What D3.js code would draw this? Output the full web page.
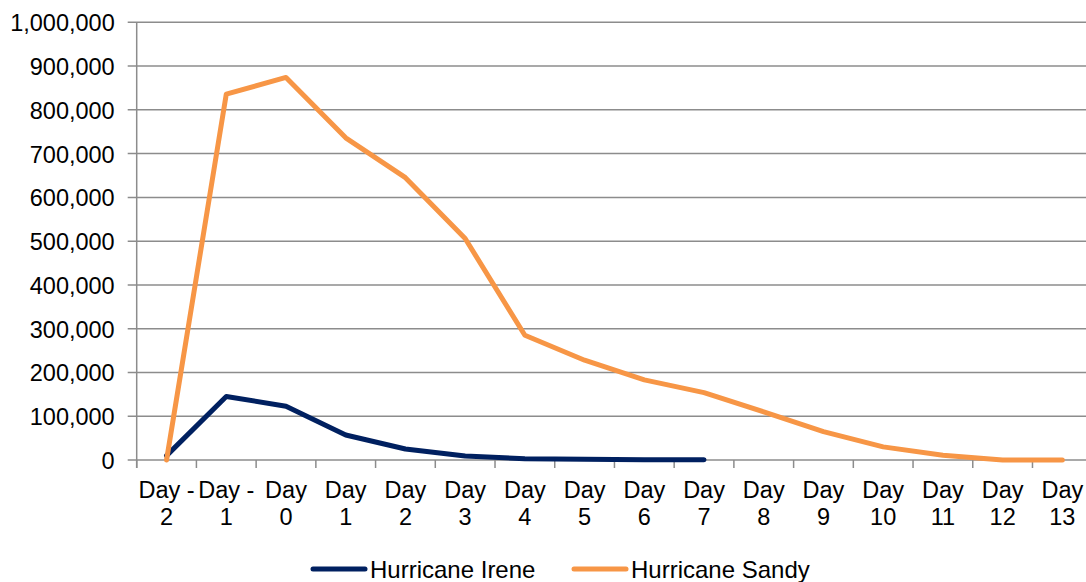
<!DOCTYPE html>
<html>
<head>
<meta charset="utf-8">
<script src="https://cdn.jsdelivr.net/npm/d3@7"></script>
<style>
  html, body { margin: 0; padding: 0; background: #fff; }
  svg { display: block; }
  text { font-family: "Liberation Sans", Arial, sans-serif; fill: #000; }
</style>
</head>
<body>
<svg id="chart" width="1086" height="582"></svg>
<script>
// Customers without power, by day relative to landfall
const categories = ["Day -2", "Day -1", "Day 0", "Day 1", "Day 2", "Day 3", "Day 4", "Day 5",
                    "Day 6", "Day 7", "Day 8", "Day 9", "Day 10", "Day 11", "Day 12", "Day 13"];
const ireneValues = [10000, 145000, 123000, 57000, 25000, 9000, 3000, 1500, 800, 400];
const sandyValues = [0, 836000, 874000, 736000, 645000, 506000, 285000, 228000,
                     183000, 154000, 110000, 65000, 30000, 11000, 0, 0];
const yTicks = [0, 100000, 200000, 300000, 400000, 500000, 600000, 700000, 800000, 900000, 1000000];
const seriesNames = ["Hurricane Irene", "Hurricane Sandy"];
const seriesColors = ["#002060", "#F79646"];

const svg = d3.select("#chart");
const plotLeft = 136.7, plotRight = 1092.2, plotTop = 22.3, plotBottom = 460;

const x = d3.scaleBand().domain(categories).range([plotLeft, plotRight]).paddingInner(0).paddingOuter(0);
const y = d3.scaleLinear().domain([0, 1000000]).range([plotBottom, plotTop]);
const cx = d => x(d) + x.bandwidth() / 2;

const gridColor = "#8c8c8c";

// horizontal gridlines with short ticks to the left of the axis
svg.append("g").selectAll("line").data(yTicks).join("line")
  .attr("x1", plotLeft - 9).attr("x2", 1086)
  .attr("y1", d => y(d)).attr("y2", d => y(d))
  .attr("stroke", gridColor).attr("stroke-width", 1.5);

// vertical axis line
svg.append("line")
  .attr("x1", plotLeft).attr("x2", plotLeft).attr("y1", plotTop).attr("y2", plotBottom + 8)
  .attr("stroke", gridColor).attr("stroke-width", 1.5);

// category boundary ticks under the x axis
const boundaries = categories.map(c => x(c)).concat([plotRight]);
svg.append("g").selectAll("line").data(boundaries).join("line")
  .attr("x1", d => d).attr("x2", d => d).attr("y1", plotBottom).attr("y2", plotBottom + 8)
  .attr("stroke", gridColor).attr("stroke-width", 1.5);

// y tick labels
const yAxis = d3.axisLeft(y).tickValues(yTicks).tickFormat(d3.format(",")).tickSize(0).tickPadding(0);
const yg = svg.append("g").attr("transform", `translate(${plotLeft - 22},0)`).call(yAxis);
yg.select(".domain").remove();
yg.selectAll("text").attr("font-size", 23.5).attr("font-family", "'Liberation Sans', Arial, sans-serif")
  .attr("fill", "#000").attr("dy", "0.36em");

// x tick labels, wrapped onto two lines
const xg = svg.append("g");
categories.forEach(c => {
  const m = c.match(/^(.*?)(\d+)$/);
  const t = xg.append("text").attr("text-anchor", "middle").attr("font-size", 23.5)
    .attr("transform", `translate(${cx(c)},0)`);
  t.append("tspan").attr("x", 0).attr("y", 498).text(m[1].trim());
  t.append("tspan").attr("x", 0).attr("y", 525).text(m[2]);
});

// series lines
const line = d3.line().x((d, i) => cx(categories[i])).y(d => y(d));
[ireneValues, sandyValues].forEach((vals, k) => {
  svg.append("path").datum(vals)
    .attr("d", line)
    .attr("fill", "none")
    .attr("stroke", seriesColors[k])
    .attr("stroke-width", 5)
    .attr("stroke-linecap", "round")
    .attr("stroke-linejoin", "round");
});

// legend
const legendX = [313, 574];
seriesNames.forEach((name, k) => {
  const g = svg.append("g").attr("transform", `translate(${legendX[k]},569)`);
  g.append("line").attr("x1", 0).attr("x2", 52).attr("y1", 0).attr("y2", 0)
    .attr("stroke", seriesColors[k]).attr("stroke-width", 5).attr("stroke-linecap", "round");
  g.append("text").attr("x", 57).attr("y", 8.5).attr("font-size", 24).text(name);
});
</script>
</body>
</html>
